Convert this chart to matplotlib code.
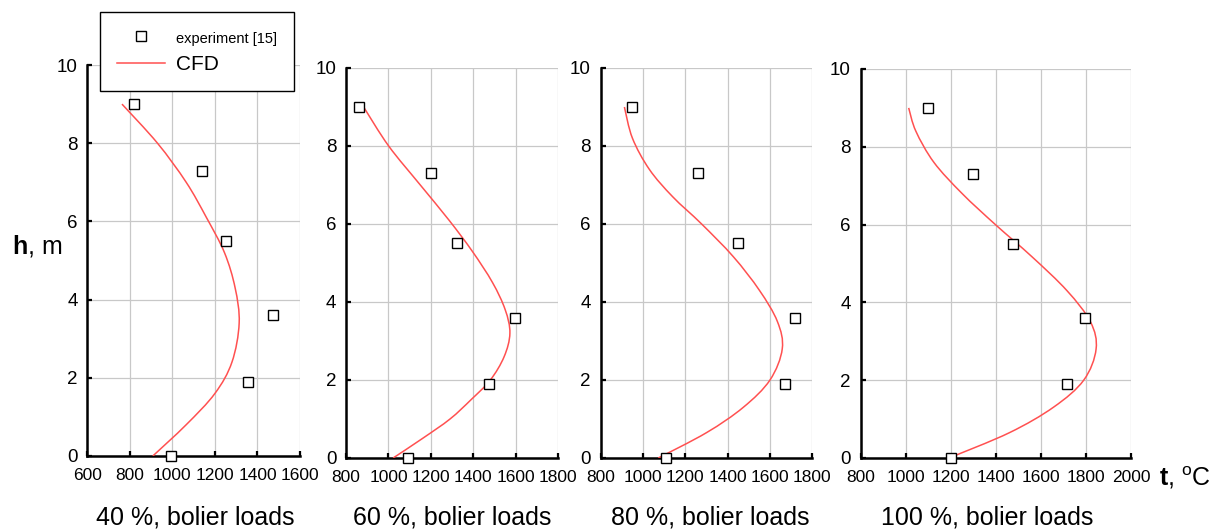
import matplotlib
matplotlib.use("Agg")
import matplotlib.pyplot as plt
from matplotlib.lines import Line2D
from matplotlib.path import Path
from matplotlib.patches import PathPatch

plt.rcParams['font.family'] = ['Liberation Sans', 'DejaVu Sans']
plt.rcParams['mathtext.fontset'] = 'custom'
plt.rcParams['mathtext.rm'] = 'Liberation Sans'
plt.rcParams['mathtext.bf'] = 'Liberation Sans:bold'
plt.rcParams['mathtext.it'] = 'Liberation Sans:italic'

# ---- data ----
exp_h = [0, 1.9, 3.6, 5.5, 7.3, 9.0]
exp_t40 = [995, 1354, 1472, 1251, 1140, 818]
exp_t60 = [1091, 1473, 1597, 1322, 1202, 863]
exp_t80 = [1109, 1669, 1720, 1450, 1258, 950]
exp_t100 = [1199, 1718, 1795, 1474, 1298, 1099]

cfd_h40 = [0, 0.8, 1.6, 2.4, 3.4, 4.3, 5.2, 6.1, 7.0, 8.0, 9.0]
cfd_t40 = [908, 1065, 1200, 1280, 1314, 1295, 1245, 1160, 1065, 930, 763]

cfd_h60 = [0, 0.5, 1.0, 1.5, 2.0, 2.6, 3.2, 3.8, 4.5, 5.3, 6.1, 7.0, 8.0, 9.0]
cfd_t60 = [1022, 1160, 1290, 1390, 1480, 1545, 1572, 1550, 1490, 1395, 1285, 1150, 1001, 883]

cfd_h80 = [0, 0.65, 1.3, 2.0, 2.8, 3.5, 4.3, 5.16, 6.0, 6.7, 7.4, 8.2, 9.0]
cfd_t80 = [1072, 1300, 1474, 1600, 1658, 1635, 1550, 1427, 1277, 1140, 1030, 950, 912]

cfd_h100 = [0, 0.65, 1.31, 2.0, 2.8, 3.5, 4.3, 5.17, 6.0, 6.8, 7.6, 8.4, 9.0]
cfd_t100 = [1192, 1460, 1657, 1790, 1845, 1820, 1716, 1561, 1398, 1250, 1125, 1045, 1013]

xlims = [(600, 1600), (800, 1800), (800, 1800), (800, 2000)]
xticks = [[600, 800, 1000, 1200, 1400, 1600],
          [800, 1000, 1200, 1400, 1600, 1800],
          [800, 1000, 1200, 1400, 1600, 1800],
          [800, 1000, 1200, 1400, 1600, 1800, 2000]]
yticks = [0, 2, 4, 6, 8, 10]
subtitles = ["40 %, bolier loads", "60 %, bolier loads", "80 %, bolier loads", "100 %, bolier loads"]
legend_labels = ["experiment [15]", "CFD"]

exp_series = [exp_t40, exp_t60, exp_t80, exp_t100]
cfd_series = [(cfd_t40, cfd_h40), (cfd_t60, cfd_h60), (cfd_t80, cfd_h80), (cfd_t100, cfd_h100)]

W, H = 1218, 532
fig = plt.figure(figsize=(W / 100, H / 100), dpi=100)

rects_px = [(87.3, 300, 65, 456), (346, 558.3, 68, 458), (600.7, 812.3, 68, 458), (860.7, 1131, 69, 458)]
sub_x = [195, 452, 710, 987]

RED = '#ff5050'
GRID = '#c8c8c8'


def smooth_path(xs, ys):
    """Smoothed-line path (Bezier through the given points, like a spreadsheet 'smoothed line')."""
    pts = list(zip(xs, ys))
    n = len(pts)
    verts = [pts[0]]
    codes = [Path.MOVETO]
    for k in range(n - 1):
        p0 = pts[k - 1] if k > 0 else pts[k]
        p1 = pts[k]
        p2 = pts[k + 1]
        p3 = pts[k + 2] if k + 2 < n else pts[k + 1]
        c1 = (p1[0] + (p2[0] - p0[0]) / 6.0, p1[1] + (p2[1] - p0[1]) / 6.0)
        c2 = (p2[0] - (p3[0] - p1[0]) / 6.0, p2[1] - (p3[1] - p1[1]) / 6.0)
        verts += [c1, c2, p2]
        codes += [Path.CURVE4, Path.CURVE4, Path.CURVE4]
    return Path(verts, codes)


for i in range(4):
    l, r, t, b = rects_px[i]
    ax = fig.add_axes([l / W, 1 - b / H, (r - l) / W, (b - t) / H])
    ax.set_xlim(*xlims[i])
    ax.set_ylim(0, 10)
    ax.set_xticks(xticks[i])
    ax.set_yticks(yticks)
    ax.grid(True, color=GRID, linewidth=0.9)
    ax.set_axisbelow(True)
    for s in ['top', 'right']:
        ax.spines[s].set_visible(False)
    for s in ['left', 'bottom']:
        ax.spines[s].set_linewidth(1.8)
        ax.spines[s].set_color('black')
    ax.tick_params(axis='both', direction='in', length=3.5, width=1.6, color='black')
    ax.tick_params(axis='x', labelsize=12.5, pad=9)
    ax.tick_params(axis='y', labelsize=13.5, pad=7)
    ct, chh = cfd_series[i]
    ax.add_patch(PathPatch(smooth_path(ct, chh), facecolor='none', edgecolor=RED,
                           linewidth=1.1, zorder=3))
    ax.plot(exp_series[i], exp_h, linestyle='none', marker='s', markersize=7.5,
            markerfacecolor='white', markeredgecolor='black', markeredgewidth=1.0,
            zorder=4, clip_on=False)
    fig.text(sub_x[i] / W, 1 - 518 / H, subtitles[i], ha='center', va='center', fontsize=18)

fig.text(12 / W, 1 - 246 / H, r"$\mathbf{h}$, m", ha='left', va='center', fontsize=18)
fig.text(1159 / W, 1 - 478 / H, r"$\mathbf{t}$, $^{\mathrm{o}}$C", ha='left', va='center', fontsize=18)

handles = [Line2D([], [], linestyle='none', marker='s', markersize=6.5,
                  markerfacecolor='white', markeredgecolor='black', markeredgewidth=1.0),
           Line2D([], [], color=RED, linewidth=1.1)]
leg = fig.legend(handles, legend_labels, loc='upper left',
                 bbox_to_anchor=(100 / W, 1 - 12 / H), bbox_transform=fig.transFigure,
                 fontsize=15, frameon=True, fancybox=False, framealpha=1,
                 edgecolor='black', handlelength=2.3, handletextpad=0.55,
                 borderpad=0.8, labelspacing=0.42, borderaxespad=0)
leg.get_frame().set_linewidth(1.0)
leg.get_texts()[0].set_fontsize(10.5)

fig.savefig('out.png', dpi=100)
